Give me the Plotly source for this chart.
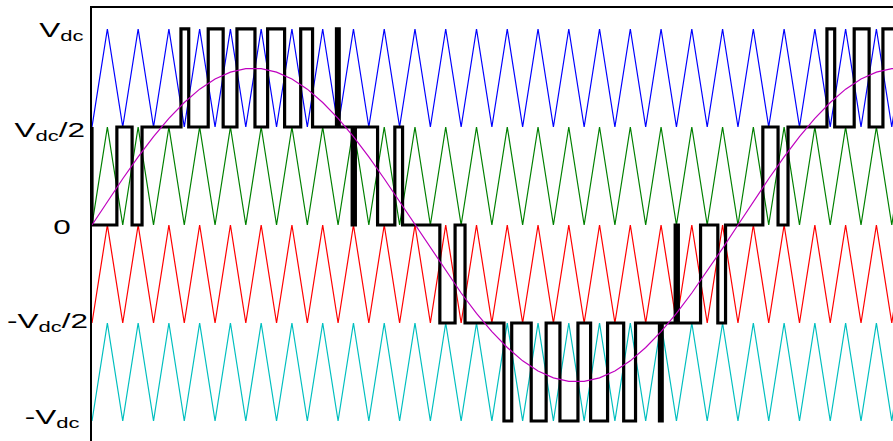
import plotly.graph_objects as go

# Instants (ms) of the carrier vertices: half a carrier period apart (21 carrier periods per 20 ms)
carrier_t_ms = [0.000, 0.476, 0.952, 1.429, 1.905, 2.381, 2.857, 3.333, 3.810, 4.286,
                4.762, 5.238, 5.714, 6.190, 6.667, 7.143, 7.619, 8.095, 8.571, 9.048,
                9.524, 10.000, 10.476, 10.952, 11.429, 11.905, 12.381, 12.857, 13.333, 13.810,
                14.286, 14.762, 15.238, 15.714, 16.190, 16.667, 17.143, 17.619, 18.095, 18.571,
                19.048, 19.524, 20.000, 20.476, 20.952, 21.429, 21.905, 22.381, 22.857, 23.333,
                23.810, 24.286, 24.762, 25.238]
# Carrier position at each vertex: 0 = valley, 1 = peak (all carriers in phase)
carrier_shape = [0, 1, 0, 1, 0, 1, 0, 1, 0, 1, 0, 1, 0, 1, 0, 1, 0, 1, 0, 1,
                 0, 1, 0, 1, 0, 1, 0, 1, 0, 1, 0, 1, 0, 1, 0, 1, 0, 1, 0, 1,
                 0, 1, 0, 1, 0, 1, 0, 1, 0, 1, 0, 1, 0, 1]
# Lower edge of each carrier band (per unit of Vdc) and its colour
band_low = [0.5, 0.0, -0.5, -1.0]
band_colors = ["#0000FF", "#008000", "#FF0000", "#00BFBF"]
band_span = 0.5

# Modulating reference (per unit of Vdc) at the same instants
ref_v = [0.000, 0.119, 0.236, 0.347, 0.451, 0.544, 0.625, 0.693, 0.745, 0.780,
         0.798, 0.798, 0.780, 0.745, 0.693, 0.625, 0.544, 0.451, 0.347, 0.236,
         0.119, 0.000, -0.119, -0.236, -0.347, -0.451, -0.544, -0.625, -0.693, -0.745,
         -0.780, -0.798, -0.798, -0.780, -0.745, -0.693, -0.625, -0.544, -0.451, -0.347,
         -0.236, -0.119, 0.000, 0.119, 0.236, 0.347, 0.451, 0.544, 0.625, 0.693,
         0.745, 0.780, 0.798, 0.798]

# Level labels
level_text = ["V<sub>dc</sub>", "V<sub>dc</sub>/2", "0", "-V<sub>dc</sub>/2", "-V<sub>dc</sub>"]
level_value = [1.0, 0.5, 0.0, -0.5, -1.0]

t_end = 24.8
W, H = 893, 441
M_LEFT = 92


def carrier_values(k):
    return [low + band_span * carrier_shape[k] for low in band_low]


def output_level(r, carriers):
    return -1.0 + band_span * sum(1 for c in carriers if r >= c)


# Phase-disposition comparison of the reference against the four carriers
pwm_t = [carrier_t_ms[0]]
pwm_v = [output_level(ref_v[0], carrier_values(0))]
for k in range(len(carrier_t_ms) - 1):
    t0, t1 = carrier_t_ms[k], carrier_t_ms[k + 1]
    r0, r1 = ref_v[k], ref_v[k + 1]
    c0s, c1s = carrier_values(k), carrier_values(k + 1)
    cuts = []
    for c0, c1 in zip(c0s, c1s):
        d0, d1 = r0 - c0, r1 - c1
        if d0 * d1 < 0:
            cuts.append(t0 + (t1 - t0) * d0 / (d0 - d1))
    edges = [t0] + sorted(cuts) + [t1]
    for a, b in zip(edges[:-1], edges[1:]):
        f = ((a + b) / 2 - t0) / (t1 - t0)
        rm = r0 + (r1 - r0) * f
        cm = [c0 + (c1 - c0) * f for c0, c1 in zip(c0s, c1s)]
        lv = output_level(rm, cm)
        if lv != pwm_v[-1]:
            pwm_t.append(a)
            pwm_v.append(lv)
pwm_t.append(carrier_t_ms[-1])
pwm_v.append(pwm_v[-1])

fig = go.Figure()

for low, col in zip(band_low, band_colors):
    fig.add_trace(go.Scatter(
        x=carrier_t_ms,
        y=[low + band_span * s for s in carrier_shape],
        mode="lines", line=dict(color=col, width=1.2),
        hoverinfo="skip", showlegend=False,
    ))

fig.add_trace(go.Scatter(
    x=pwm_t, y=pwm_v, mode="lines",
    line=dict(color="black", width=3.2, shape="hv"),
    hoverinfo="skip", showlegend=False,
))

fig.add_trace(go.Scatter(
    x=carrier_t_ms, y=ref_v, mode="lines",
    line=dict(color="#BF00BF", width=1.2),
    hoverinfo="skip", showlegend=False,
))

# right edge (px) and vertical nudge of each level label
label_right = [86, 87, 73, 90, 82]
label_shift = [-2, -4, -2, 1, 3]
plot_w = W - M_LEFT
for txt, val, xr, ys in zip(level_text, level_value, label_right, label_shift):
    fig.add_annotation(
        x=(xr - M_LEFT) / plot_w, xref="paper", y=val, yref="y",
        text=txt, showarrow=False, xanchor="right", yanchor="middle",
        yshift=ys,
        font=dict(family="Liberation Sans, Arial, sans-serif", size=21, color="black"),
    )

fig.update_layout(
    width=W, height=H,
    margin=dict(l=M_LEFT, r=0, t=8, b=0),
    plot_bgcolor="white", paper_bgcolor="white",
    xaxis=dict(range=[0, t_end], side="top", showline=True, linecolor="black",
               linewidth=1.5, showgrid=False, zeroline=False,
               showticklabels=False, ticks=""),
    yaxis=dict(range=[-1.102, 1.107], showline=True, linecolor="black",
               linewidth=1.5, showgrid=False, zeroline=False,
               showticklabels=False, ticks=""),
)

# Widen the level labels (wide sans lettering), keeping their right edges in place
widen_labels = """
var gd = document.getElementById('{plot_id}');
gd.querySelectorAll('.annotation-text').forEach(function (el) {
  var b0 = el.getBBox();
  var w = el.getComputedTextLength();
  el.setAttribute('textLength', (w * 1.5).toFixed(1));
  el.setAttribute('lengthAdjust', 'spacingAndGlyphs');
  var b1 = el.getBBox();
  var dx = (b0.x + b0.width) - (b1.x + b1.width);
  var tr = el.getAttribute('transform') || '';
  el.setAttribute('transform', tr + ' translate(' + dx.toFixed(1) + ',0)');
});
"""

fig.write_html("out.html", post_script=widen_labels)
